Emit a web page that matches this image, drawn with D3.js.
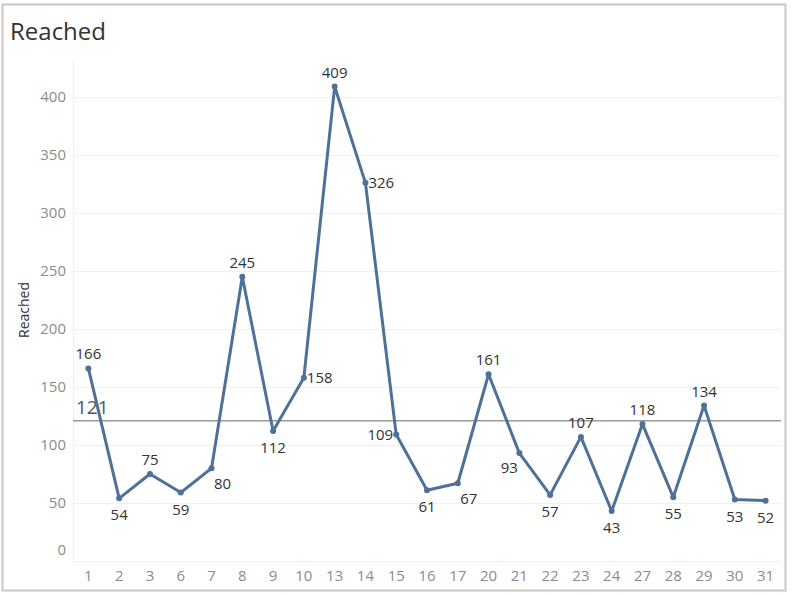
<!DOCTYPE html>
<html>
<head>
<meta charset="utf-8">
<script src="https://cdn.jsdelivr.net/npm/d3@7/dist/d3.min.js"></script>
<style>
  body { margin: 0; background: #fff; }
  svg { display: block; font-family: "Open Sans", "Noto Sans", sans-serif; }
</style>
</head>
<body>
<div id="chart"></div>
<script>
// 날짜별 Reached 값
var days = ["1","2","3","6","7","8","9","10","13","14","15","16","17","20","21","22","23","24","27","28","29","30","31"];
var reached = [166,54,75,59,80,245,112,158,409,326,109,61,67,161,93,57,107,43,118,55,134,53,52];
var yTicks = [0,50,100,150,200,250,300,350,400];
var avgValue = 121;

// 라벨 위치 (기본: 위)
var labelPos = {"2":"below","6":"below","7":"belowRight","9":"below","10":"right","14":"right",
  "15":"left","16":"below","17":"belowRight","21":"belowLeft","22":"below","24":"below",
  "28":"below","30":"below","31":"below"};

var width = 792, height = 595;
var margin = {top: 60, right: 11, bottom: 34, left: 73};

var svg = d3.select("#chart").append("svg")
    .attr("width", width)
    .attr("height", height);

// 바깥 테두리
svg.append("rect")
    .attr("x", 2.5).attr("y", 4.5)
    .attr("width", 783).attr("height", 586)
    .attr("fill", "none").attr("stroke", "#c8c8c8").attr("stroke-width", 2);

svg.append("text")
    .attr("x", 10).attr("y", 40)
    .attr("font-size", 24).attr("fill", "#333")
    .text("Reached");

var x = d3.scalePoint()
    .domain(days)
    .range([margin.left, width - margin.right])
    .padding(0.5);

var y = d3.scaleLinear()
    .domain([0, 400])
    .range([561, 97]);

// 그리드
svg.append("g").selectAll("line")
    .data(yTicks)
    .enter().append("line")
    .attr("x1", margin.left).attr("x2", width - margin.right)
    .attr("y1", function(d){ return y(d) + 0.5; })
    .attr("y2", function(d){ return y(d) + 0.5; })
    .attr("stroke", "#f0f0f0");

svg.append("line")
    .attr("x1", margin.left + 0.5).attr("x2", margin.left + 0.5)
    .attr("y1", margin.top).attr("y2", 561)
    .attr("stroke", "#f0f0f0");

// 축 라벨
svg.append("g").selectAll("text")
    .data(yTicks)
    .enter().append("text")
    .attr("x", 66)
    .attr("y", function(d){ return d === 0 ? y(d) - 6 : y(d) + 5; })
    .attr("text-anchor", "end")
    .attr("font-size", 15).attr("fill", "#8c8c8c")
    .text(function(d){ return d; });

svg.append("g").selectAll("text")
    .data(days)
    .enter().append("text")
    .attr("x", function(d){ return x(d); })
    .attr("y", 581)
    .attr("text-anchor", "middle")
    .attr("font-size", 15).attr("fill", "#8c8c8c")
    .text(function(d){ return d; });

svg.append("text")
    .attr("transform", "translate(29,310) rotate(-90)")
    .attr("text-anchor", "middle")
    .attr("font-size", 14).attr("fill", "#333")
    .text("Reached");

// 평균선
svg.append("line")
    .attr("x1", margin.left).attr("x2", width - margin.right)
    .attr("y1", y(avgValue)).attr("y2", y(avgValue))
    .attr("stroke", "#9a9a9a").attr("stroke-width", 1.5);

svg.append("text")
    .attr("x", 76).attr("y", y(avgValue) - 7)
    .attr("font-size", 19).attr("fill", "#555")
    .text(avgValue);

// 라인
var line = d3.line()
    .x(function(d, i){ return x(days[i]); })
    .y(function(d){ return y(d); });

svg.append("path")
    .datum(reached)
    .attr("d", line)
    .attr("fill", "none")
    .attr("stroke", "#4f7099")
    .attr("stroke-width", 3)
    .attr("stroke-linejoin", "round");

svg.append("g").selectAll("circle")
    .data(reached)
    .enter().append("circle")
    .attr("cx", function(d, i){ return x(days[i]); })
    .attr("cy", function(d){ return y(d); })
    .attr("r", 3)
    .attr("fill", "#4f7099");

var offsets = {
  above: [0, -9, "middle"],
  below: [0, 22, "middle"],
  right: [3, 5, "start"],
  left: [-3, 5, "end"],
  belowRight: [11, 21, "middle"],
  belowLeft: [-10, 20, "middle"]
};

svg.append("g").selectAll("text")
    .data(reached)
    .enter().append("text")
    .each(function(d, i){
        var o = offsets[labelPos[days[i]] || "above"];
        d3.select(this)
          .attr("x", x(days[i]) + o[0])
          .attr("y", y(d) + o[1])
          .attr("text-anchor", o[2]);
    })
    .attr("font-size", 15).attr("fill", "#333")
    .text(function(d){ return d; });
</script>
</body>
</html>
